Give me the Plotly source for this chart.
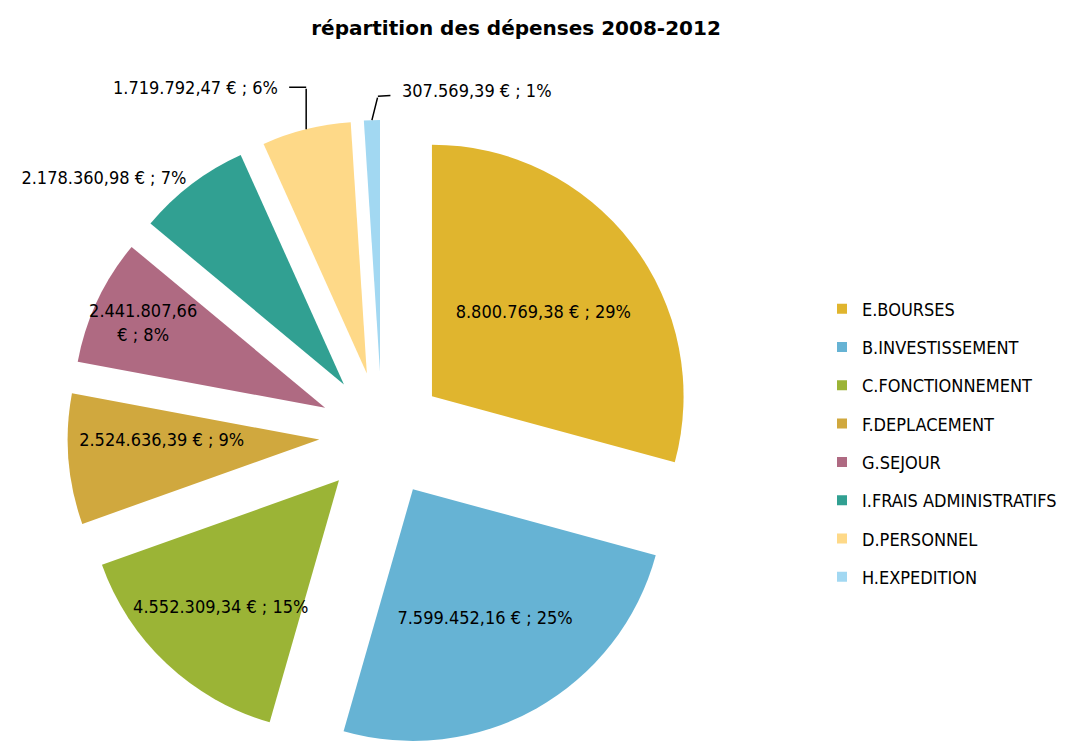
import math
import plotly.graph_objects as go

categories = ["E.BOURSES", "B.INVESTISSEMENT", "C.FONCTIONNEMENT", "F.DEPLACEMENT",
              "G.SEJOUR", "I.FRAIS ADMINISTRATIFS", "D.PERSONNEL", "H.EXPEDITION"]
values = [8800769.38, 7599452.16, 4552309.34, 2524636.39,
          2441807.66, 2178360.98, 1719792.47, 307569.39]
pct_labels = [29, 25, 15, 9, 8, 7, 6, 1]
colors = ["#E0B52E", "#66B3D4", "#9BB436", "#D0A83E",
          "#AF6A82", "#31A092", "#FED988", "#A2D8F2"]

label_font = "DejaVu Sans Condensed, DejaVu Sans, sans-serif"
W, H = 1078, 749
PULL = 0.25
dom_x = [67.5 / W, 696.5 / W]
dom_y = [0, 1 - 120 / H]

# slices whose labels sit outside with an elbow leader line (annotations)
leader_idx = [6, 7]
# (elbow offset from slice edge, label offset from elbow) in pixels
leader_layout = {6: ((0, -42), (-111, 0)), 7: ((6, -24), (99, -6))}


def fmt_eur(v):
    s = f"{v:,.2f}"
    return s.replace(",", "X").replace(".", ",").replace("X", ".")


templates = ["%{value:,.2f} € ; %{customdata}%"] * len(values)
templates[4] = "%{value:,.2f}<br>€ ; %{customdata}%"
positions = ["inside"] * 5 + ["outside"] * 3
for i in leader_idx:
    templates[i] = ""
    positions[i] = "none"

fig = go.Figure()
fig.add_trace(go.Pie(
    labels=categories, values=values, customdata=pct_labels,
    sort=False, direction="clockwise", rotation=0,
    pull=[PULL] * len(values),
    marker=dict(colors=colors, line=dict(width=0)),
    texttemplate=templates, textposition=positions,
    insidetextorientation="horizontal",
    textfont=dict(family=label_font, size=18, color="#000000"),
    outsidetextfont=dict(family=label_font, size=18, color="#000000"),
    showlegend=False, hoverinfo="label+value+percent",
    domain=dict(x=dom_x, y=dom_y),
))

# leader-line labels: anchor point computed from the pie geometry
total = sum(values)
box_half = min((dom_x[1] - dom_x[0]) * W, (dom_y[1] - dom_y[0]) * H) / 2
cx = W * (dom_x[0] + dom_x[1]) / 2
cy = H * (1 - dom_y[0]) - box_half
cum = 0
for i, v in enumerate(values):
    mid = (cum + v / 2) / total * 2 * math.pi
    cum += v
    if i not in leader_idx:
        continue
    px = cx + box_half * math.sin(mid)
    py = cy - box_half * math.cos(mid)
    (ex, ey), (lx, ly) = leader_layout[i]
    elbow_x, elbow_y = px + ex, py + ey
    # segment from slice edge to elbow
    fig.add_annotation(
        x=px / W, y=1 - py / H, xref="paper", yref="paper", text="",
        showarrow=True, arrowhead=0, arrowwidth=1.5, arrowcolor="#000000",
        ax=ex, ay=ey, standoff=0,
    )
    # label with short segment to elbow
    fig.add_annotation(
        x=elbow_x / W, y=1 - elbow_y / H, xref="paper", yref="paper",
        text=f"{fmt_eur(v)} € ; {pct_labels[i]}%",
        showarrow=True, arrowhead=0, arrowwidth=1.5, arrowcolor="#000000",
        ax=lx, ay=ly, standoff=0, startstandoff=10,
        font=dict(family=label_font, size=18, color="#000000"),
    )

# legend entries (one per category) so that spacing matches the reference
for name, col in zip(categories, colors):
    fig.add_trace(go.Scatter(
        x=[None], y=[None], mode="markers", name=name, legendgroup=name,
        marker=dict(symbol="square", size=10, color=col),
        hoverinfo="skip",
    ))

fig.update_layout(
    width=W, height=H,
    margin=dict(l=0, r=0, t=0, b=0, autoexpand=False),
    paper_bgcolor="white", plot_bgcolor="white",
    separators=",.",
    uniformtext=dict(minsize=18, mode="show"),
    title=dict(text="<b>répartition des dépenses 2008-2012</b>",
               x=516 / W, xanchor="center", y=1 - 28 / H, yanchor="middle",
               yref="container",
               font=dict(family="DejaVu Sans, sans-serif", size=20, color="#000000")),
    xaxis=dict(visible=False), yaxis=dict(visible=False),
    legend=dict(x=822 / W, xanchor="left", y=1 - 443 / H, yanchor="middle",
                tracegroupgap=11.9, bgcolor="rgba(0,0,0,0)",
                font=dict(family=label_font, size=18, color="#000000")),
)

fig.write_html("out.html",
               config={"displayModeBar": False},
               post_script="document.body.style.margin='0';"
                           "document.documentElement.style.margin='0';")
